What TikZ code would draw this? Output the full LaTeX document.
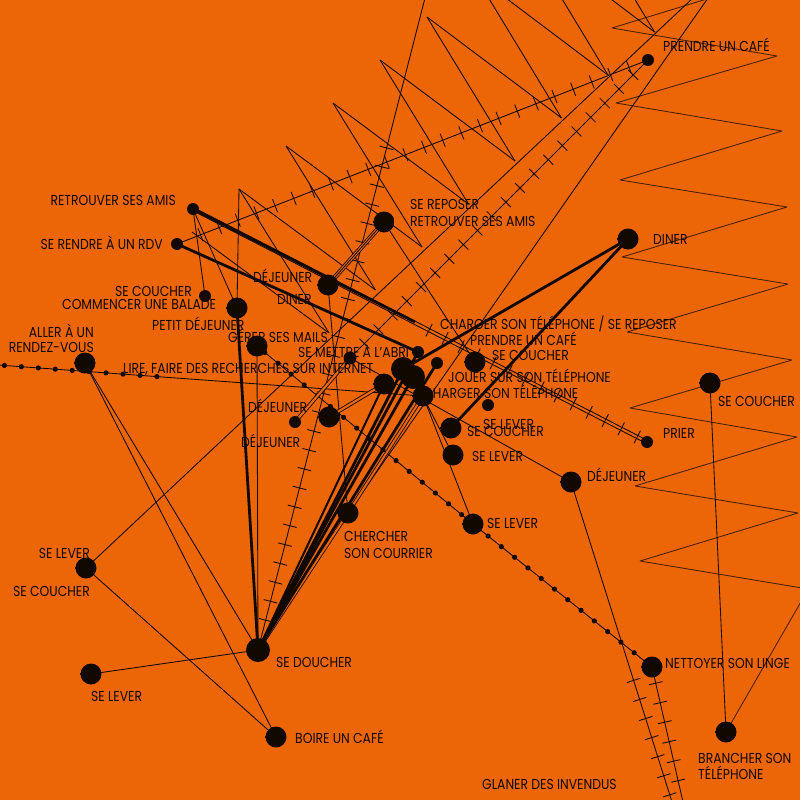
\documentclass[tikz,border=0pt]{standalone}
\usepackage{fontspec}
\setmainfont{Poppins}[FakeStretch=0.86]
\usetikzlibrary{decorations.markings,calc}
\definecolor{bg}{HTML}{EC6608}
\definecolor{ink}{HTML}{110800}
\pgfdeclareradialshading{halo}{\pgfpoint{0bp}{0bp}}{color(0bp)=(ink); color(31bp)=(ink); color(50bp)=(bg); color(80bp)=(bg)}
\begin{document}
\begin{tikzpicture}[x=1pt,y=-1pt,line join=round,
  ln/.style={draw=ink,line width=0.85pt},
  tk/.style={draw=ink,line width=2.8pt},
  zz/.style={draw=ink!75!bg,line width=0.85pt},
  dotc/.style={circle,fill=ink,inner sep=0pt,minimum size=12pt},
  hdot/.style={circle,inner sep=0pt,minimum size=21pt,shade,shading=halo},
  bigdot/.style={circle,inner sep=0pt,minimum size=24pt,shade,shading=halo},
  lbl/.style={font=\fontsize{14.4}{15}\selectfont,inner sep=0pt,text=ink},
  hatch/.style n args={3}{postaction={decorate,decoration={markings,
     mark=between positions #1 and #2 step #3 with {\draw[draw=ink,line width=0.85pt] (0pt,-7pt) -- (0pt,7pt);}}}},
  dotted line/.style 2 args={postaction={decorate,decoration={markings,
     mark=between positions #1 and #2 step 17pt with {\fill[ink] (0pt,0pt) circle (2.6pt);}}}}
]
\useasboundingbox (0,0) rectangle (800,800);
\fill[bg] (0,0) rectangle (800,800);

% ---------- dots (positions) ----------
\coordinate (prendre) at (648,60);
\coordinate (retrouver) at (193,209);
\coordinate (rdv) at (177,244);
\coordinate (repos) at (384,222);
\coordinate (diner) at (628,239);
\coordinate (dejA) at (328,285);
\coordinate (couchA) at (205,296);
\coordinate (petitdej) at (237,308);
\coordinate (mails) at (257,346);
\coordinate (aller) at (85,363);
\coordinate (abri) at (350,358);
\coordinate (cA) at (403,369);
\coordinate (cB) at (413,377);
\coordinate (cC) at (418,352);
\coordinate (cD) at (437,363);
\coordinate (couchB) at (475,362);
\coordinate (cE) at (384,384);
\coordinate (charger) at (423,396);
\coordinate (jouer) at (488,405);
\coordinate (couchC) at (451,428);
\coordinate (leverA) at (453,455);
\coordinate (dejB) at (295,422);
\coordinate (dejC) at (329,417);
\coordinate (chercher) at (348,513);
\coordinate (leverB) at (473,524);
\coordinate (prier) at (647,442);
\coordinate (dejD) at (571,482);
\coordinate (couchD) at (710,383);
\coordinate (douche) at (258,650);
\coordinate (leverC) at (86,568);
\coordinate (leverD) at (91,674);
\coordinate (boire) at (276,737);
\coordinate (nettoyer) at (652,667);
\coordinate (brancher) at (726,732);
% free ends
\coordinate (t1) at (708,-2);
\coordinate (t2) at (693,-2);
\coordinate (t3) at (425,-2);
\coordinate (l0) at (-2,365);
\coordinate (b1) at (672,802);
\coordinate (b2) at (683,802);
\coordinate (zr) at (802,600);
\coordinate (rth) at (415,322);

% ---------- right zigzag ----------
\draw[zz] (710,-2) -- (612,28) -- (777,56) -- (616,103) -- (782,131) -- (620,180)
  -- (787,207) -- (622,257) -- (788,284) -- (627,332) -- (792,360) -- (630,408)
  -- (797,437) -- (635,486) -- (798,513) -- (640,561) -- (802,588);
\draw[zz] (zr) -- (brancher);
\draw[ln] (couchD) -- (brancher);

% ---------- upper sawtooth ----------
\foreach \k in {-2,...,4}{
  \draw[ln] ({427-47*(\k)},{17+43*(\k)}) -- ({608-46.5*(\k+1)},{75+43*(\k+1)});
  \draw[ln] ({427-47*(\k)},{17+43*(\k)}) -- ({608-46.5*(\k+2)},{75+43*(\k+2)});
}
\draw[ln] (568,-112) -- (654.5,32);
\draw[ln] (192,232) -- (329,333);
\draw[ln] (239,189) -- (petitdej);

% ---------- long thin lines ----------
\draw[ln] (t1) -- (chercher);
\draw[ln] (t2) -- (leverC);
\draw[ln,hatch={0.23}{0.98}{19.5pt}] (t3) -- (douche);
\draw[ln,hatch={0.05}{0.97}{20pt}] (rdv) -- (prendre);
\draw[ln,hatch={0.05}{0.97}{20pt}] (prendre) -- (abri);

% dotted lines
\draw[ln,dotted line={0.015}{0.38}] (l0) -- (charger);
\draw[ln,dotted line={0.02}{0.985}] (mails) -- (leverB) -- (nettoyer);

% retrouver -> prier double hatched
\draw[ln] ($(retrouver)+(0,-1.8)$) -- ($(prier)+(0,-1.8)$);
\draw[ln] ($(retrouver)+(0,1.8)$) -- ($(prier)+(0,1.8)$);
\path[hatch={0.52}{0.98}{18pt}] (retrouver) -- (prier);

% bottom hatched
\draw[ln,hatch={0.62}{0.99}{20pt}] (dejD) -- (b1);
\draw[ln,hatch={0.12}{0.97}{20pt}] (nettoyer) -- (b2);

% other thin links
\draw[ln] (retrouver) -- (couchA);
\draw[ln] (retrouver) -- (petitdej);
\draw[ln] (mails) -- (douche);
\draw[ln] (aller) -- (boire);
\draw[ln] (aller) -- (douche);
\draw[ln] (leverC) -- (boire);
\draw[ln] (leverD) -- (douche);
\draw[ln] (dejA) -- (chercher);
\draw[ln] (abri) -- (dejD);
\draw[ln] (charger) -- (leverB);
\draw[ln] (leverA) -- (cB);
\draw[ln] (repos) -- (couchB);
\draw[ln,double=bg,double distance=2.2pt] (dejB) -- (abri);
\draw[ln,double=bg,double distance=2.2pt] (dejC) -- (cE);
\draw[ln,double=bg,double distance=3pt] (repos) -- (dejA);
\draw[ln] (repos) -- (dejA);
\draw[ln,double=bg,double distance=2pt] (douche) -- (chercher) -- (charger);

% ---------- thick links ----------
\draw[tk] (retrouver) -- (rth);
\draw[tk] (rdv) -- (cC);
\draw[tk] (petitdej) -- (douche);
\draw[tk] (diner) -- (cA);
\draw[tk] (diner) -- (couchC);
\draw[tk] (douche) -- (cA);
\draw[tk] (douche) -- (cB);
\draw[tk] (douche) -- (cC);
\draw[tk] (douche) -- (cD);
\draw[tk,line width=2pt] (douche) -- (cE);

% ---------- dots ----------
\node[dotc] (nPrendre) at (prendre) {};
\node[dotc] (nRetrouver) at (retrouver) {};
\node[dotc] (nRdv) at (rdv) {};
\node[hdot] (nRepos) at (repos) {};
\node[hdot] (nDiner) at (diner) {};
\node[hdot] (nDejA) at (dejA) {};
\node[dotc] (nCouchA) at (couchA) {};
\node[hdot] (nPetitdej) at (petitdej) {};
\node[hdot] (nMails) at (mails) {};
\node[hdot] (nAller) at (aller) {};
\node[dotc,minimum size=13pt] (nAbri) at (abri) {};
\node[bigdot] (nCA) at (cA) {};
\node[bigdot] (nCB) at (cB) {};
\node[dotc] (nCC) at (cC) {};
\node[dotc] (nCD) at (cD) {};
\node[hdot] (nCouchB) at (couchB) {};
\node[hdot] (nCE) at (cE) {};
\node[hdot] (nCharger) at (charger) {};
\node[dotc] (nJouer) at (jouer) {};
\node[hdot] (nCouchC) at (couchC) {};
\node[hdot] (nLeverA) at (leverA) {};
\node[dotc] (nDejB) at (dejB) {};
\node[hdot] (nDejC) at (dejC) {};
\node[hdot] (nChercher) at (chercher) {};
\node[hdot] (nLeverB) at (leverB) {};
\node[dotc] (nPrier) at (prier) {};
\node[hdot] (nDejD) at (dejD) {};
\node[hdot] (nCouchD) at (couchD) {};
\node[bigdot] (nDouche) at (douche) {};
\node[hdot] (nLeverC) at (leverC) {};
\node[hdot] (nLeverD) at (leverD) {};
\node[hdot] (nBoire) at (boire) {};
\node[hdot] (nNettoyer) at (nettoyer) {};
\node[hdot] (nBrancher) at (brancher) {};

% ---------- labels ----------
\node[lbl,anchor=base west] (tPrendre) at (663,52) {PRENDRE UN CAFÉ};
\node[lbl,anchor=base east] (tRetrouver) at (176,205) {RETROUVER SES AMIS};
\node[lbl,anchor=base east] (tRdv) at (163,249) {SE RENDRE À UN RDV};
\node[lbl,anchor=base west] (tRepos1) at (410,209) {SE REPOSER};
\node[lbl,anchor=base west] (tRepos2) at (410,226) {RETROUVER SES AMIS};
\node[lbl,anchor=base west] (tDiner) at (653,244) {DINER};
\node[lbl,anchor=base west] (tDejA) at (253,282) {DÉJEUNER};
\node[lbl,anchor=base west] (tDinerB) at (277,304) {DINER};
\node[lbl,anchor=base west] (tCouchA) at (115,296) {SE COUCHER};
\node[lbl,anchor=base west] (tBalade) at (62,309) {COMMENCER UNE BALADE};
\node[lbl,anchor=base west] (tPetit) at (152,330) {PETIT DÉJEUNER};
\node[lbl,anchor=base west] (tMails) at (228,342) {GÉRER SES MAILS};
\node[lbl,anchor=base east] (tAller1) at (94,337) {ALLER À UN};
\node[lbl,anchor=base east] (tAller2) at (94,352) {RENDEZ-VOUS};
\node[lbl,anchor=base west] (tLire) at (123,373) {LIRE, FAIRE DES RECHERCHES SUR INTERNET};
\node[lbl,anchor=base west] (tAbri) at (298,357) {SE METTRE À L'ABRI};
\node[lbl,anchor=base west] (tChRep) at (440,329) {CHARGER SON TÉLÉPHONE / SE REPOSER};
\node[lbl,anchor=base west] (tPrendreB) at (470,345) {PRENDRE UN CAFÉ};
\node[lbl,anchor=base west] (tCouchB) at (492,360) {SE COUCHER};
\node[lbl,anchor=base west] (tJouer) at (448,382) {JOUER SUR SON TÉLÉPHONE};
\node[lbl,anchor=base west] (tCharger) at (423,398) {CHARGER SON TÉLÉPHONE};
\node[lbl,anchor=base west] (tLeverA) at (483,429) {SE LEVER};
\node[lbl,anchor=base west] (tCouchC) at (467,436) {SE COUCHER};
\node[lbl,anchor=base west] (tLeverA2) at (472,461) {SE LEVER};
\node[lbl,anchor=base west] (tPrier) at (663,438) {PRIER};
\node[lbl,anchor=base west] (tDejD) at (587,481) {DÉJEUNER};
\node[lbl,anchor=base west] (tCouchD) at (718,406) {SE COUCHER};
\node[lbl,anchor=base west] (tLeverB) at (487,528) {SE LEVER};
\node[lbl,anchor=base west] (tDejB) at (248,412) {DÉJEUNER};
\node[lbl,anchor=base west] (tDejC) at (241,447) {DÉJEUNER};
\node[lbl,anchor=base west] (tCh1) at (344,541) {CHERCHER};
\node[lbl,anchor=base west] (tCh2) at (344,558) {SON COURRIER};
\node[lbl,anchor=base east] (tLeverC) at (90,558) {SE LEVER};
\node[lbl,anchor=base east] (tCouchE) at (90,596) {SE COUCHER};
\node[lbl,anchor=base west] (tDouche) at (276,667) {SE DOUCHER};
\node[lbl,anchor=base west] (tLeverD) at (91,701) {SE LEVER};
\node[lbl,anchor=base west] (tBoire) at (295,743) {BOIRE UN CAFÉ};
\node[lbl,anchor=base west] (tNettoyer) at (665,668) {NETTOYER SON LINGE};
\node[lbl,anchor=base west] (tBr1) at (698,763) {BRANCHER SON};
\node[lbl,anchor=base west] (tBr2) at (698,779) {TÉLÉPHONE};
\node[lbl,anchor=base west] (tGlaner) at (482,789) {GLANER DES INVENDUS};
\end{tikzpicture}
\end{document}
